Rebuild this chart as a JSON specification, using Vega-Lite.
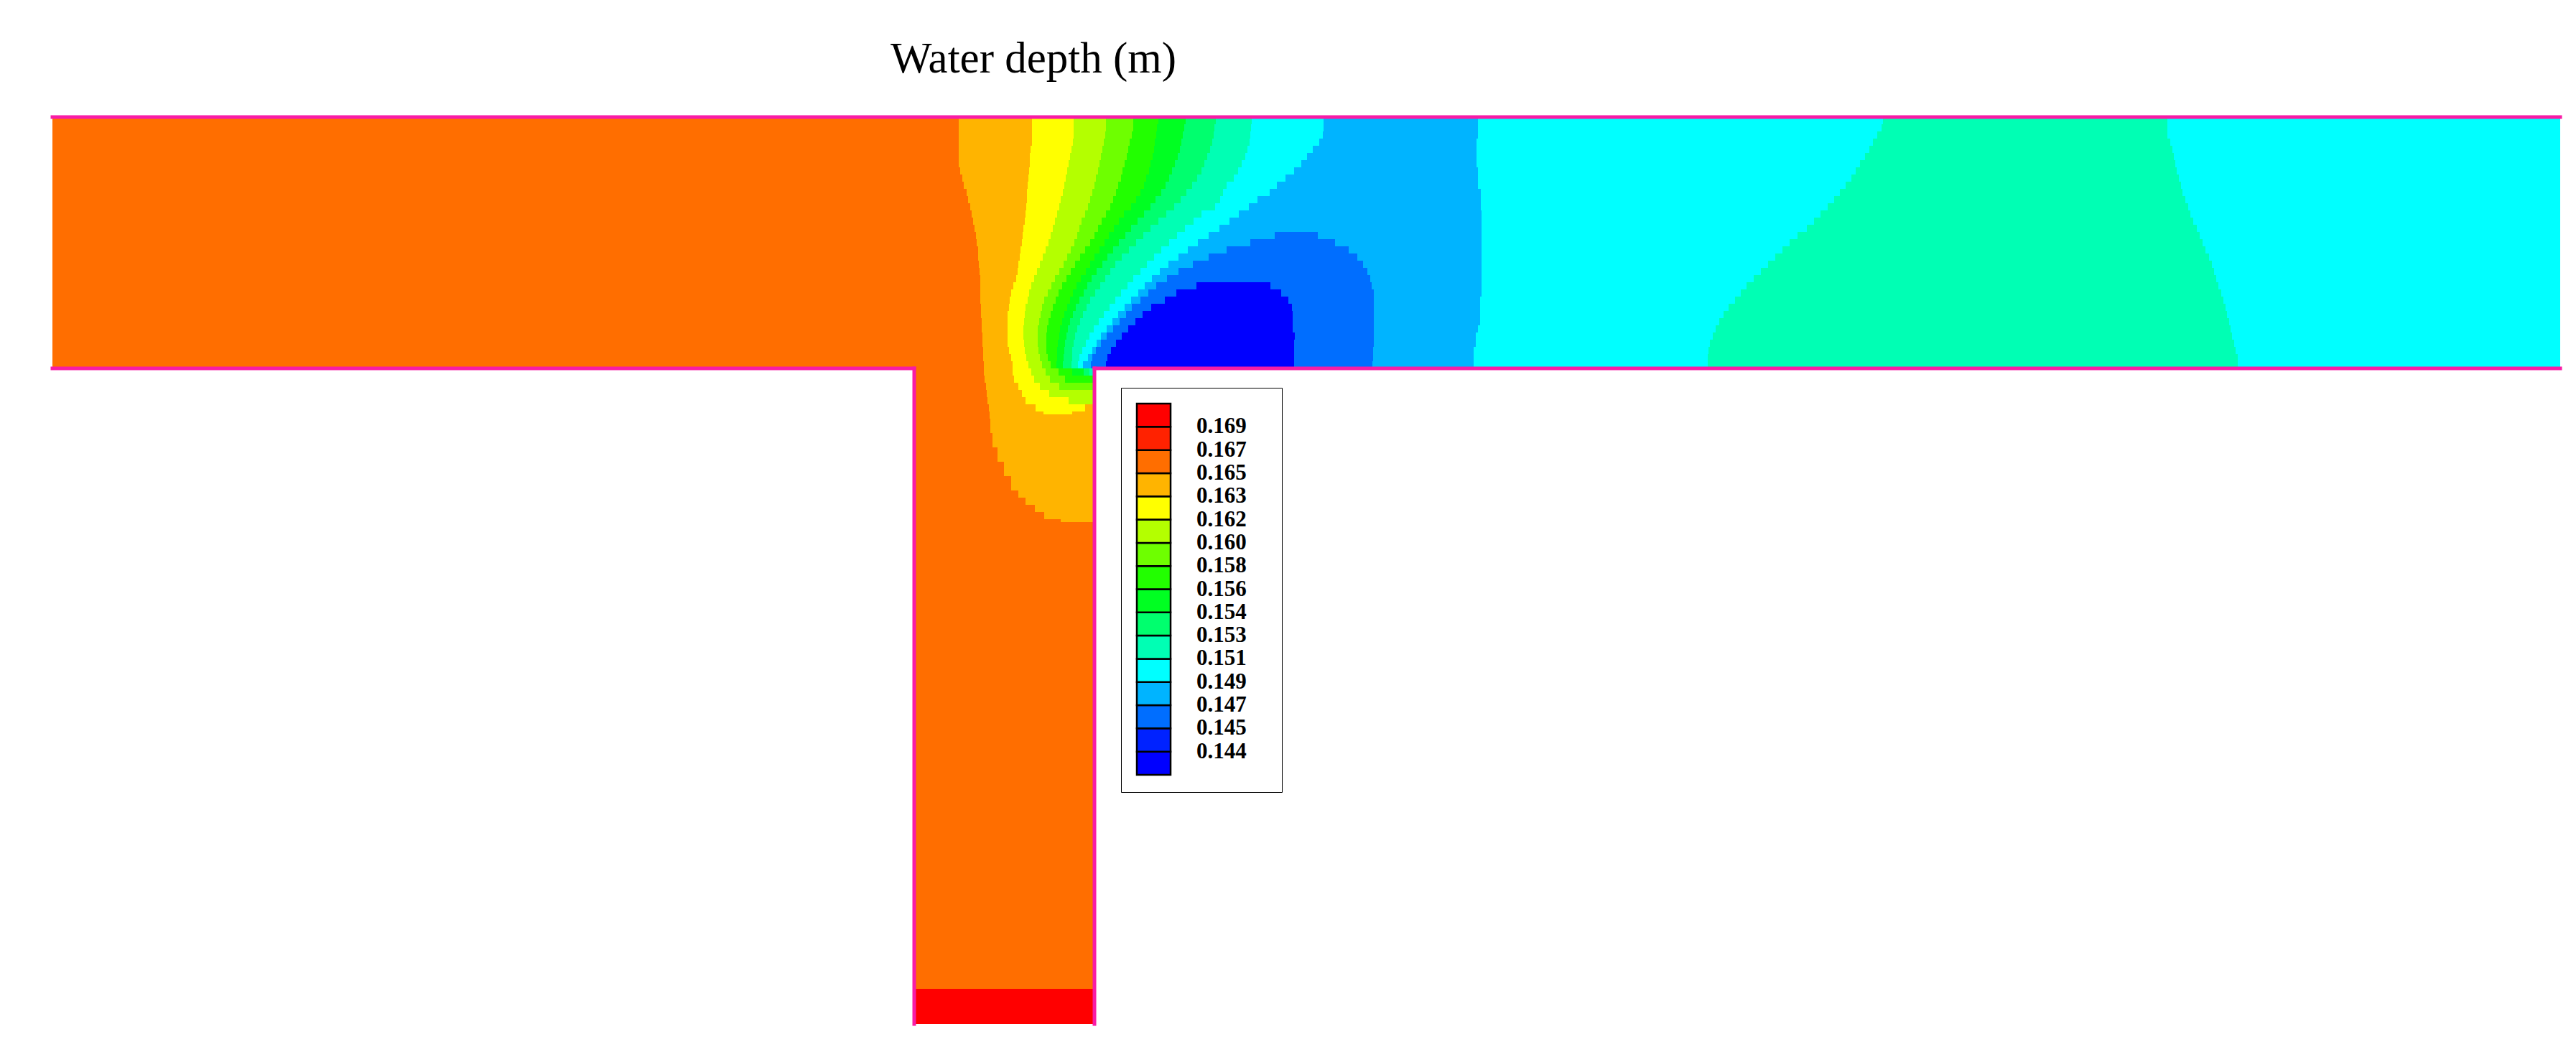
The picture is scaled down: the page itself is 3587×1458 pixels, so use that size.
{
  "$schema": "https://vega.github.io/schema/vega-lite/v6.json",
  "width": 3492,
  "height": 1263,
  "autosize": {"type": "none"},
  "padding": {"left": 73, "top": 163, "right": 22, "bottom": 32},
  "background": "white",
  "config": {"view": {"stroke": null}},
  "title": {"text": "Water depth (m)", "anchor": "start", "frame": "group", "align": "center", "dx": 1366, "font": "Liberation Serif", "fontSize": 61, "fontWeight": "normal", "color": "#000000", "baseline": "alphabetic", "offset": -3},
  "datasets": {
    "cells": [
      {"x":0,"x2":126.2,"y":0,"y2":1,"d":0.166},{"x":126.2,"x2":136.4,"y":0,"y2":1,"d":0.164},{"x":136.4,"x2":142.2,"y":0,"y2":1,"d":0.1625},{"x":142.2,"x2":146.7,"y":0,"y2":1,"d":0.161},{"x":146.7,"x2":150.5,"y":0,"y2":1,"d":0.159},{"x":150.5,"x2":154.0,"y":0,"y2":1,"d":0.157},{"x":154.0,"x2":157.8,"y":0,"y2":1,"d":0.155},{"x":157.8,"x2":162.0,"y":0,"y2":1,"d":0.1535},{"x":162.0,"x2":167.0,"y":0,"y2":1,"d":0.152},{"x":167.0,"x2":177.0,"y":0,"y2":1,"d":0.150},{"x":177.0,"x2":198.5,"y":0,"y2":1,"d":0.148},{"x":198.5,"x2":254.9,"y":0,"y2":1,"d":0.150},{"x":254.9,"x2":294.5,"y":0,"y2":1,"d":0.152},{"x":294.5,"x2":349.2,"y":0,"y2":1,"d":0.150},
      {"x":0,"x2":126.2,"y":1,"y2":2,"d":0.166},{"x":126.2,"x2":136.4,"y":1,"y2":2,"d":0.164},{"x":136.4,"x2":142.2,"y":1,"y2":2,"d":0.1625},{"x":142.2,"x2":146.7,"y":1,"y2":2,"d":0.161},{"x":146.7,"x2":150.5,"y":1,"y2":2,"d":0.159},{"x":150.5,"x2":153.8,"y":1,"y2":2,"d":0.157},{"x":153.8,"x2":157.6,"y":1,"y2":2,"d":0.155},{"x":157.6,"x2":161.8,"y":1,"y2":2,"d":0.1535},{"x":161.8,"x2":166.9,"y":1,"y2":2,"d":0.152},{"x":166.9,"x2":177.0,"y":1,"y2":2,"d":0.150},{"x":177.0,"x2":198.5,"y":1,"y2":2,"d":0.148},{"x":198.5,"x2":254.7,"y":1,"y2":2,"d":0.150},{"x":254.7,"x2":294.5,"y":1,"y2":2,"d":0.152},{"x":294.5,"x2":349.2,"y":1,"y2":2,"d":0.150},
      {"x":0,"x2":126.2,"y":2,"y2":3,"d":0.166},{"x":126.2,"x2":136.4,"y":2,"y2":3,"d":0.164},{"x":136.4,"x2":142.2,"y":2,"y2":3,"d":0.1625},{"x":142.2,"x2":146.6,"y":2,"y2":3,"d":0.161},{"x":146.6,"x2":150.3,"y":2,"y2":3,"d":0.159},{"x":150.3,"x2":153.7,"y":2,"y2":3,"d":0.157},{"x":153.7,"x2":157.4,"y":2,"y2":3,"d":0.155},{"x":157.4,"x2":161.7,"y":2,"y2":3,"d":0.1535},{"x":161.7,"x2":166.8,"y":2,"y2":3,"d":0.152},{"x":166.8,"x2":176.9,"y":2,"y2":3,"d":0.150},{"x":176.9,"x2":198.5,"y":2,"y2":3,"d":0.148},{"x":198.5,"x2":254.1,"y":2,"y2":3,"d":0.150},{"x":254.1,"x2":294.5,"y":2,"y2":3,"d":0.152},{"x":294.5,"x2":349.2,"y":2,"y2":3,"d":0.150},
      {"x":0,"x2":126.2,"y":3,"y2":4,"d":0.166},{"x":126.2,"x2":136.4,"y":3,"y2":4,"d":0.164},{"x":136.4,"x2":142.1,"y":3,"y2":4,"d":0.1625},{"x":142.1,"x2":146.4,"y":3,"y2":4,"d":0.161},{"x":146.4,"x2":150.0,"y":3,"y2":4,"d":0.159},{"x":150.0,"x2":153.5,"y":3,"y2":4,"d":0.157},{"x":153.5,"x2":157.2,"y":3,"y2":4,"d":0.155},{"x":157.2,"x2":161.5,"y":3,"y2":4,"d":0.1535},{"x":161.5,"x2":166.7,"y":3,"y2":4,"d":0.152},{"x":166.7,"x2":176.4,"y":3,"y2":4,"d":0.150},{"x":176.4,"x2":198.3,"y":3,"y2":4,"d":0.148},{"x":198.3,"x2":253.5,"y":3,"y2":4,"d":0.150},{"x":253.5,"x2":294.9,"y":3,"y2":4,"d":0.152},{"x":294.9,"x2":349.2,"y":3,"y2":4,"d":0.150},
      {"x":0,"x2":126.2,"y":4,"y2":5,"d":0.166},{"x":126.2,"x2":136.2,"y":4,"y2":5,"d":0.164},{"x":136.2,"x2":141.9,"y":4,"y2":5,"d":0.1625},{"x":141.9,"x2":146.2,"y":4,"y2":5,"d":0.161},{"x":146.2,"x2":149.8,"y":4,"y2":5,"d":0.159},{"x":149.8,"x2":153.4,"y":4,"y2":5,"d":0.157},{"x":153.4,"x2":157.0,"y":4,"y2":5,"d":0.155},{"x":157.0,"x2":161.2,"y":4,"y2":5,"d":0.1535},{"x":161.2,"x2":166.4,"y":4,"y2":5,"d":0.152},{"x":166.4,"x2":175.5,"y":4,"y2":5,"d":0.150},{"x":175.5,"x2":198.3,"y":4,"y2":5,"d":0.148},{"x":198.3,"x2":253.0,"y":4,"y2":5,"d":0.150},{"x":253.0,"x2":295.2,"y":4,"y2":5,"d":0.152},{"x":295.2,"x2":349.2,"y":4,"y2":5,"d":0.150},
      {"x":0,"x2":126.2,"y":5,"y2":6,"d":0.166},{"x":126.2,"x2":136.1,"y":5,"y2":6,"d":0.164},{"x":136.1,"x2":141.7,"y":5,"y2":6,"d":0.1625},{"x":141.7,"x2":146.0,"y":5,"y2":6,"d":0.161},{"x":146.0,"x2":149.6,"y":5,"y2":6,"d":0.159},{"x":149.6,"x2":153.2,"y":5,"y2":6,"d":0.157},{"x":153.2,"x2":156.7,"y":5,"y2":6,"d":0.155},{"x":156.7,"x2":160.8,"y":5,"y2":6,"d":0.1535},{"x":160.8,"x2":166.1,"y":5,"y2":6,"d":0.152},{"x":166.1,"x2":174.7,"y":5,"y2":6,"d":0.150},{"x":174.7,"x2":198.3,"y":5,"y2":6,"d":0.148},{"x":198.3,"x2":252.4,"y":5,"y2":6,"d":0.150},{"x":252.4,"x2":295.4,"y":5,"y2":6,"d":0.152},{"x":295.4,"x2":349.2,"y":5,"y2":6,"d":0.150},
      {"x":0,"x2":126.2,"y":6,"y2":7,"d":0.166},{"x":126.2,"x2":136.1,"y":6,"y2":7,"d":0.164},{"x":136.1,"x2":141.5,"y":6,"y2":7,"d":0.1625},{"x":141.5,"x2":145.8,"y":6,"y2":7,"d":0.161},{"x":145.8,"x2":149.3,"y":6,"y2":7,"d":0.159},{"x":149.3,"x2":152.9,"y":6,"y2":7,"d":0.157},{"x":152.9,"x2":156.3,"y":6,"y2":7,"d":0.155},{"x":156.3,"x2":160.4,"y":6,"y2":7,"d":0.1535},{"x":160.4,"x2":165.6,"y":6,"y2":7,"d":0.152},{"x":165.6,"x2":173.9,"y":6,"y2":7,"d":0.150},{"x":173.9,"x2":198.3,"y":6,"y2":7,"d":0.148},{"x":198.3,"x2":251.7,"y":6,"y2":7,"d":0.150},{"x":251.7,"x2":295.6,"y":6,"y2":7,"d":0.152},{"x":295.6,"x2":349.2,"y":6,"y2":7,"d":0.150},
      {"x":0,"x2":126.4,"y":7,"y2":8,"d":0.166},{"x":126.4,"x2":136.0,"y":7,"y2":8,"d":0.164},{"x":136.0,"x2":141.3,"y":7,"y2":8,"d":0.1625},{"x":141.3,"x2":145.6,"y":7,"y2":8,"d":0.161},{"x":145.6,"x2":149.0,"y":7,"y2":8,"d":0.159},{"x":149.0,"x2":152.7,"y":7,"y2":8,"d":0.157},{"x":152.7,"x2":155.9,"y":7,"y2":8,"d":0.155},{"x":155.9,"x2":160.0,"y":7,"y2":8,"d":0.1535},{"x":160.0,"x2":165.1,"y":7,"y2":8,"d":0.152},{"x":165.1,"x2":172.9,"y":7,"y2":8,"d":0.150},{"x":172.9,"x2":198.5,"y":7,"y2":8,"d":0.148},{"x":198.5,"x2":251.1,"y":7,"y2":8,"d":0.150},{"x":251.1,"x2":295.8,"y":7,"y2":8,"d":0.152},{"x":295.8,"x2":349.2,"y":7,"y2":8,"d":0.150},
      {"x":0,"x2":126.7,"y":8,"y2":9,"d":0.166},{"x":126.7,"x2":135.9,"y":8,"y2":9,"d":0.164},{"x":135.9,"x2":141.1,"y":8,"y2":9,"d":0.1625},{"x":141.1,"x2":145.3,"y":8,"y2":9,"d":0.161},{"x":145.3,"x2":148.8,"y":8,"y2":9,"d":0.159},{"x":148.8,"x2":152.3,"y":8,"y2":9,"d":0.157},{"x":152.3,"x2":155.5,"y":8,"y2":9,"d":0.155},{"x":155.5,"x2":159.4,"y":8,"y2":9,"d":0.1535},{"x":159.4,"x2":164.5,"y":8,"y2":9,"d":0.152},{"x":164.5,"x2":171.7,"y":8,"y2":9,"d":0.150},{"x":171.7,"x2":198.5,"y":8,"y2":9,"d":0.148},{"x":198.5,"x2":250.5,"y":8,"y2":9,"d":0.150},{"x":250.5,"x2":296.1,"y":8,"y2":9,"d":0.152},{"x":296.1,"x2":349.2,"y":8,"y2":9,"d":0.150},
      {"x":0,"x2":126.9,"y":9,"y2":10,"d":0.166},{"x":126.9,"x2":135.8,"y":9,"y2":10,"d":0.164},{"x":135.8,"x2":140.9,"y":9,"y2":10,"d":0.1625},{"x":140.9,"x2":145.1,"y":9,"y2":10,"d":0.161},{"x":145.1,"x2":148.4,"y":9,"y2":10,"d":0.159},{"x":148.4,"x2":152.0,"y":9,"y2":10,"d":0.157},{"x":152.0,"x2":155.0,"y":9,"y2":10,"d":0.155},{"x":155.0,"x2":158.7,"y":9,"y2":10,"d":0.1535},{"x":158.7,"x2":163.5,"y":9,"y2":10,"d":0.152},{"x":163.5,"x2":170.5,"y":9,"y2":10,"d":0.150},{"x":170.5,"x2":198.5,"y":9,"y2":10,"d":0.148},{"x":198.5,"x2":249.7,"y":9,"y2":10,"d":0.150},{"x":249.7,"x2":296.4,"y":9,"y2":10,"d":0.152},{"x":296.4,"x2":349.2,"y":9,"y2":10,"d":0.150},
      {"x":0,"x2":127.3,"y":10,"y2":11,"d":0.166},{"x":127.3,"x2":135.7,"y":10,"y2":11,"d":0.164},{"x":135.7,"x2":140.7,"y":10,"y2":11,"d":0.1625},{"x":140.7,"x2":144.8,"y":10,"y2":11,"d":0.161},{"x":144.8,"x2":148.1,"y":10,"y2":11,"d":0.159},{"x":148.1,"x2":151.5,"y":10,"y2":11,"d":0.157},{"x":151.5,"x2":154.4,"y":10,"y2":11,"d":0.155},{"x":154.4,"x2":157.9,"y":10,"y2":11,"d":0.1535},{"x":157.9,"x2":163.0,"y":10,"y2":11,"d":0.152},{"x":163.0,"x2":169.5,"y":10,"y2":11,"d":0.150},{"x":169.5,"x2":198.9,"y":10,"y2":11,"d":0.148},{"x":198.9,"x2":248.9,"y":10,"y2":11,"d":0.150},{"x":248.9,"x2":296.6,"y":10,"y2":11,"d":0.152},{"x":296.6,"x2":349.2,"y":10,"y2":11,"d":0.150},
      {"x":0,"x2":127.5,"y":11,"y2":12,"d":0.166},{"x":127.5,"x2":135.7,"y":11,"y2":12,"d":0.164},{"x":135.7,"x2":140.4,"y":11,"y2":12,"d":0.1625},{"x":140.4,"x2":144.5,"y":11,"y2":12,"d":0.161},{"x":144.5,"x2":147.7,"y":11,"y2":12,"d":0.159},{"x":147.7,"x2":150.9,"y":11,"y2":12,"d":0.157},{"x":150.9,"x2":153.6,"y":11,"y2":12,"d":0.155},{"x":153.6,"x2":157.1,"y":11,"y2":12,"d":0.1535},{"x":157.1,"x2":162.6,"y":11,"y2":12,"d":0.152},{"x":162.6,"x2":167.8,"y":11,"y2":12,"d":0.150},{"x":167.8,"x2":198.9,"y":11,"y2":12,"d":0.148},{"x":198.9,"x2":248.1,"y":11,"y2":12,"d":0.150},{"x":248.1,"x2":297.0,"y":11,"y2":12,"d":0.152},{"x":297.0,"x2":349.2,"y":11,"y2":12,"d":0.150},
      {"x":0,"x2":127.8,"y":12,"y2":13,"d":0.166},{"x":127.8,"x2":135.6,"y":12,"y2":13,"d":0.164},{"x":135.6,"x2":140.2,"y":12,"y2":13,"d":0.1625},{"x":140.2,"x2":144.2,"y":12,"y2":13,"d":0.161},{"x":144.2,"x2":147.3,"y":12,"y2":13,"d":0.159},{"x":147.3,"x2":150.2,"y":12,"y2":13,"d":0.157},{"x":150.2,"x2":152.9,"y":12,"y2":13,"d":0.155},{"x":152.9,"x2":156.2,"y":12,"y2":13,"d":0.1535},{"x":156.2,"x2":161.9,"y":12,"y2":13,"d":0.152},{"x":161.9,"x2":166.6,"y":12,"y2":13,"d":0.150},{"x":166.6,"x2":198.9,"y":12,"y2":13,"d":0.148},{"x":198.9,"x2":247.2,"y":12,"y2":13,"d":0.150},{"x":247.2,"x2":297.4,"y":12,"y2":13,"d":0.152},{"x":297.4,"x2":349.2,"y":12,"y2":13,"d":0.150},
      {"x":0,"x2":128.0,"y":13,"y2":14,"d":0.166},{"x":128.0,"x2":135.5,"y":13,"y2":14,"d":0.164},{"x":135.5,"x2":139.9,"y":13,"y2":14,"d":0.1625},{"x":139.9,"x2":143.8,"y":13,"y2":14,"d":0.161},{"x":143.8,"x2":146.7,"y":13,"y2":14,"d":0.159},{"x":146.7,"x2":149.2,"y":13,"y2":14,"d":0.157},{"x":149.2,"x2":152.0,"y":13,"y2":14,"d":0.155},{"x":152.0,"x2":155.1,"y":13,"y2":14,"d":0.1535},{"x":155.1,"x2":160.0,"y":13,"y2":14,"d":0.152},{"x":160.0,"x2":165.2,"y":13,"y2":14,"d":0.150},{"x":165.2,"x2":199.0,"y":13,"y2":14,"d":0.148},{"x":199.0,"x2":246.2,"y":13,"y2":14,"d":0.150},{"x":246.2,"x2":297.7,"y":13,"y2":14,"d":0.152},{"x":297.7,"x2":349.2,"y":13,"y2":14,"d":0.150},
      {"x":0,"x2":128.2,"y":14,"y2":15,"d":0.166},{"x":128.2,"x2":135.4,"y":14,"y2":15,"d":0.164},{"x":135.4,"x2":139.6,"y":14,"y2":15,"d":0.1625},{"x":139.6,"x2":143.3,"y":14,"y2":15,"d":0.161},{"x":143.3,"x2":146.1,"y":14,"y2":15,"d":0.159},{"x":146.1,"x2":148.5,"y":14,"y2":15,"d":0.157},{"x":148.5,"x2":151.1,"y":14,"y2":15,"d":0.155},{"x":151.1,"x2":154.0,"y":14,"y2":15,"d":0.1535},{"x":154.0,"x2":158.9,"y":14,"y2":15,"d":0.152},{"x":158.9,"x2":163.9,"y":14,"y2":15,"d":0.150},{"x":163.9,"x2":199.0,"y":14,"y2":15,"d":0.148},{"x":199.0,"x2":245.3,"y":14,"y2":15,"d":0.150},{"x":245.3,"x2":298.1,"y":14,"y2":15,"d":0.152},{"x":298.1,"x2":349.2,"y":14,"y2":15,"d":0.150},
      {"x":0,"x2":128.4,"y":15,"y2":16,"d":0.166},{"x":128.4,"x2":135.2,"y":15,"y2":16,"d":0.164},{"x":135.2,"x2":139.3,"y":15,"y2":16,"d":0.1625},{"x":139.3,"x2":143.0,"y":15,"y2":16,"d":0.161},{"x":143.0,"x2":145.6,"y":15,"y2":16,"d":0.159},{"x":145.6,"x2":147.8,"y":15,"y2":16,"d":0.157},{"x":147.8,"x2":150.2,"y":15,"y2":16,"d":0.155},{"x":150.2,"x2":152.9,"y":15,"y2":16,"d":0.1535},{"x":152.9,"x2":157.7,"y":15,"y2":16,"d":0.152},{"x":157.7,"x2":162.5,"y":15,"y2":16,"d":0.150},{"x":162.5,"x2":199.0,"y":15,"y2":16,"d":0.148},{"x":199.0,"x2":244.3,"y":15,"y2":16,"d":0.150},{"x":244.3,"x2":298.6,"y":15,"y2":16,"d":0.152},{"x":298.6,"x2":349.2,"y":15,"y2":16,"d":0.150},
      {"x":0,"x2":128.6,"y":16,"y2":17,"d":0.166},{"x":128.6,"x2":135.1,"y":16,"y2":17,"d":0.164},{"x":135.1,"x2":139.0,"y":16,"y2":17,"d":0.1625},{"x":139.0,"x2":142.7,"y":16,"y2":17,"d":0.161},{"x":142.7,"x2":145.1,"y":16,"y2":17,"d":0.159},{"x":145.1,"x2":147.1,"y":16,"y2":17,"d":0.157},{"x":147.1,"x2":149.4,"y":16,"y2":17,"d":0.155},{"x":149.4,"x2":151.9,"y":16,"y2":17,"d":0.1535},{"x":151.9,"x2":156.6,"y":16,"y2":17,"d":0.152},{"x":156.6,"x2":161.0,"y":16,"y2":17,"d":0.150},{"x":161.0,"x2":170.2,"y":16,"y2":17,"d":0.148},{"x":170.2,"x2":176.2,"y":16,"y2":17,"d":0.146},{"x":176.2,"x2":199.0,"y":16,"y2":17,"d":0.148},{"x":199.0,"x2":243.0,"y":16,"y2":17,"d":0.150},{"x":243.0,"x2":299.0,"y":16,"y2":17,"d":0.152},{"x":299.0,"x2":349.2,"y":16,"y2":17,"d":0.150},
      {"x":0,"x2":128.7,"y":17,"y2":18,"d":0.166},{"x":128.7,"x2":135.0,"y":17,"y2":18,"d":0.164},{"x":135.0,"x2":138.7,"y":17,"y2":18,"d":0.1625},{"x":138.7,"x2":142.3,"y":17,"y2":18,"d":0.161},{"x":142.3,"x2":144.5,"y":17,"y2":18,"d":0.159},{"x":144.5,"x2":146.5,"y":17,"y2":18,"d":0.157},{"x":146.5,"x2":148.5,"y":17,"y2":18,"d":0.155},{"x":148.5,"x2":150.9,"y":17,"y2":18,"d":0.1535},{"x":150.9,"x2":155.5,"y":17,"y2":18,"d":0.152},{"x":155.5,"x2":159.5,"y":17,"y2":18,"d":0.150},{"x":159.5,"x2":166.8,"y":17,"y2":18,"d":0.148},{"x":166.8,"x2":178.6,"y":17,"y2":18,"d":0.146},{"x":178.6,"x2":199.0,"y":17,"y2":18,"d":0.148},{"x":199.0,"x2":241.9,"y":17,"y2":18,"d":0.150},{"x":241.9,"x2":299.4,"y":17,"y2":18,"d":0.152},{"x":299.4,"x2":349.2,"y":17,"y2":18,"d":0.150},
      {"x":0,"x2":128.9,"y":18,"y2":19,"d":0.166},{"x":128.9,"x2":134.8,"y":18,"y2":19,"d":0.164},{"x":134.8,"x2":138.3,"y":18,"y2":19,"d":0.1625},{"x":138.3,"x2":141.8,"y":18,"y2":19,"d":0.161},{"x":141.8,"x2":143.8,"y":18,"y2":19,"d":0.159},{"x":143.8,"x2":145.8,"y":18,"y2":19,"d":0.157},{"x":145.8,"x2":147.7,"y":18,"y2":19,"d":0.155},{"x":147.7,"x2":149.9,"y":18,"y2":19,"d":0.1535},{"x":149.9,"x2":154.4,"y":18,"y2":19,"d":0.152},{"x":154.4,"x2":158.1,"y":18,"y2":19,"d":0.150},{"x":158.1,"x2":163.5,"y":18,"y2":19,"d":0.148},{"x":163.5,"x2":180.5,"y":18,"y2":19,"d":0.146},{"x":180.5,"x2":199.0,"y":18,"y2":19,"d":0.148},{"x":199.0,"x2":240.9,"y":18,"y2":19,"d":0.150},{"x":240.9,"x2":299.8,"y":18,"y2":19,"d":0.152},{"x":299.8,"x2":349.2,"y":18,"y2":19,"d":0.150},
      {"x":0,"x2":128.9,"y":19,"y2":20,"d":0.166},{"x":128.9,"x2":134.7,"y":19,"y2":20,"d":0.164},{"x":134.7,"x2":137.9,"y":19,"y2":20,"d":0.1625},{"x":137.9,"x2":141.3,"y":19,"y2":20,"d":0.161},{"x":141.3,"x2":143.1,"y":19,"y2":20,"d":0.159},{"x":143.1,"x2":145.1,"y":19,"y2":20,"d":0.157},{"x":145.1,"x2":146.9,"y":19,"y2":20,"d":0.155},{"x":146.9,"x2":148.9,"y":19,"y2":20,"d":0.1535},{"x":148.9,"x2":153.4,"y":19,"y2":20,"d":0.152},{"x":153.4,"x2":156.8,"y":19,"y2":20,"d":0.150},{"x":156.8,"x2":161.0,"y":19,"y2":20,"d":0.148},{"x":161.0,"x2":181.7,"y":19,"y2":20,"d":0.146},{"x":181.7,"x2":199.0,"y":19,"y2":20,"d":0.148},{"x":199.0,"x2":239.9,"y":19,"y2":20,"d":0.150},{"x":239.9,"x2":300.3,"y":19,"y2":20,"d":0.152},{"x":300.3,"x2":349.2,"y":19,"y2":20,"d":0.150},
      {"x":0,"x2":129.0,"y":20,"y2":21,"d":0.166},{"x":129.0,"x2":134.5,"y":20,"y2":21,"d":0.164},{"x":134.5,"x2":137.5,"y":20,"y2":21,"d":0.1625},{"x":137.5,"x2":140.8,"y":20,"y2":21,"d":0.161},{"x":140.8,"x2":142.4,"y":20,"y2":21,"d":0.159},{"x":142.4,"x2":144.5,"y":20,"y2":21,"d":0.157},{"x":144.5,"x2":146.2,"y":20,"y2":21,"d":0.155},{"x":146.2,"x2":148.0,"y":20,"y2":21,"d":0.1535},{"x":148.0,"x2":152.4,"y":20,"y2":21,"d":0.152},{"x":152.4,"x2":155.4,"y":20,"y2":21,"d":0.150},{"x":155.4,"x2":158.8,"y":20,"y2":21,"d":0.148},{"x":158.8,"x2":182.5,"y":20,"y2":21,"d":0.146},{"x":182.5,"x2":199.0,"y":20,"y2":21,"d":0.148},{"x":199.0,"x2":238.9,"y":20,"y2":21,"d":0.150},{"x":238.9,"x2":300.7,"y":20,"y2":21,"d":0.152},{"x":300.7,"x2":349.2,"y":20,"y2":21,"d":0.150},
      {"x":0,"x2":129.1,"y":21,"y2":22,"d":0.166},{"x":129.1,"x2":134.4,"y":21,"y2":22,"d":0.164},{"x":134.4,"x2":137.1,"y":21,"y2":22,"d":0.1625},{"x":137.1,"x2":140.2,"y":21,"y2":22,"d":0.161},{"x":140.2,"x2":141.8,"y":21,"y2":22,"d":0.159},{"x":141.8,"x2":143.9,"y":21,"y2":22,"d":0.157},{"x":143.9,"x2":145.4,"y":21,"y2":22,"d":0.155},{"x":145.4,"x2":147.3,"y":21,"y2":22,"d":0.1535},{"x":147.3,"x2":151.5,"y":21,"y2":22,"d":0.152},{"x":151.5,"x2":154.2,"y":21,"y2":22,"d":0.150},{"x":154.2,"x2":156.8,"y":21,"y2":22,"d":0.148},{"x":156.8,"x2":183.1,"y":21,"y2":22,"d":0.146},{"x":183.1,"x2":199.0,"y":21,"y2":22,"d":0.148},{"x":199.0,"x2":237.9,"y":21,"y2":22,"d":0.150},{"x":237.9,"x2":301.0,"y":21,"y2":22,"d":0.152},{"x":301.0,"x2":349.2,"y":21,"y2":22,"d":0.150},
      {"x":0,"x2":129.2,"y":22,"y2":23,"d":0.166},{"x":129.2,"x2":134.2,"y":22,"y2":23,"d":0.164},{"x":134.2,"x2":136.7,"y":22,"y2":23,"d":0.1625},{"x":136.7,"x2":139.6,"y":22,"y2":23,"d":0.161},{"x":139.6,"x2":141.2,"y":22,"y2":23,"d":0.159},{"x":141.2,"x2":143.2,"y":22,"y2":23,"d":0.157},{"x":143.2,"x2":144.7,"y":22,"y2":23,"d":0.155},{"x":144.7,"x2":146.6,"y":22,"y2":23,"d":0.1535},{"x":146.6,"x2":150.5,"y":22,"y2":23,"d":0.152},{"x":150.5,"x2":153.1,"y":22,"y2":23,"d":0.150},{"x":153.1,"x2":155.2,"y":22,"y2":23,"d":0.148},{"x":155.2,"x2":183.5,"y":22,"y2":23,"d":0.146},{"x":183.5,"x2":199.0,"y":22,"y2":23,"d":0.148},{"x":199.0,"x2":236.9,"y":22,"y2":23,"d":0.150},{"x":236.9,"x2":301.3,"y":22,"y2":23,"d":0.152},{"x":301.3,"x2":349.2,"y":22,"y2":23,"d":0.150},
      {"x":0,"x2":129.2,"y":23,"y2":24,"d":0.166},{"x":129.2,"x2":133.8,"y":23,"y2":24,"d":0.164},{"x":133.8,"x2":136.3,"y":23,"y2":24,"d":0.1625},{"x":136.3,"x2":139.1,"y":23,"y2":24,"d":0.161},{"x":139.1,"x2":140.6,"y":23,"y2":24,"d":0.159},{"x":140.6,"x2":142.6,"y":23,"y2":24,"d":0.157},{"x":142.6,"x2":144.1,"y":23,"y2":24,"d":0.155},{"x":144.1,"x2":145.9,"y":23,"y2":24,"d":0.1535},{"x":145.9,"x2":149.7,"y":23,"y2":24,"d":0.152},{"x":149.7,"x2":152.1,"y":23,"y2":24,"d":0.150},{"x":152.1,"x2":153.7,"y":23,"y2":24,"d":0.148},{"x":153.7,"x2":159.3,"y":23,"y2":24,"d":0.146},{"x":159.3,"x2":169.6,"y":23,"y2":24,"d":0.1435},{"x":169.6,"x2":183.7,"y":23,"y2":24,"d":0.146},{"x":183.7,"x2":199.0,"y":23,"y2":24,"d":0.148},{"x":199.0,"x2":235.9,"y":23,"y2":24,"d":0.150},{"x":235.9,"x2":301.6,"y":23,"y2":24,"d":0.152},{"x":301.6,"x2":349.2,"y":23,"y2":24,"d":0.150},
      {"x":0,"x2":129.2,"y":24,"y2":25,"d":0.166},{"x":129.2,"x2":133.5,"y":24,"y2":25,"d":0.164},{"x":133.5,"x2":136.0,"y":24,"y2":25,"d":0.1625},{"x":136.0,"x2":138.6,"y":24,"y2":25,"d":0.161},{"x":138.6,"x2":140.1,"y":24,"y2":25,"d":0.159},{"x":140.1,"x2":142.1,"y":24,"y2":25,"d":0.157},{"x":142.1,"x2":143.6,"y":24,"y2":25,"d":0.155},{"x":143.6,"x2":145.2,"y":24,"y2":25,"d":0.1535},{"x":145.2,"x2":148.8,"y":24,"y2":25,"d":0.152},{"x":148.8,"x2":151.2,"y":24,"y2":25,"d":0.150},{"x":151.2,"x2":152.6,"y":24,"y2":25,"d":0.148},{"x":152.6,"x2":156.5,"y":24,"y2":25,"d":0.146},{"x":156.5,"x2":171.1,"y":24,"y2":25,"d":0.1435},{"x":171.1,"x2":184.0,"y":24,"y2":25,"d":0.146},{"x":184.0,"x2":199.0,"y":24,"y2":25,"d":0.148},{"x":199.0,"x2":235.1,"y":24,"y2":25,"d":0.150},{"x":235.1,"x2":302.0,"y":24,"y2":25,"d":0.152},{"x":302.0,"x2":349.2,"y":24,"y2":25,"d":0.150},
      {"x":0,"x2":129.2,"y":25,"y2":26,"d":0.166},{"x":129.2,"x2":133.3,"y":25,"y2":26,"d":0.164},{"x":133.3,"x2":135.8,"y":25,"y2":26,"d":0.1625},{"x":135.8,"x2":138.1,"y":25,"y2":26,"d":0.161},{"x":138.1,"x2":139.7,"y":25,"y2":26,"d":0.159},{"x":139.7,"x2":141.7,"y":25,"y2":26,"d":0.157},{"x":141.7,"x2":143.0,"y":25,"y2":26,"d":0.155},{"x":143.0,"x2":144.5,"y":25,"y2":26,"d":0.1535},{"x":144.5,"x2":148.0,"y":25,"y2":26,"d":0.152},{"x":148.0,"x2":150.2,"y":25,"y2":26,"d":0.150},{"x":150.2,"x2":151.5,"y":25,"y2":26,"d":0.148},{"x":151.5,"x2":154.9,"y":25,"y2":26,"d":0.146},{"x":154.9,"x2":172.1,"y":25,"y2":26,"d":0.1435},{"x":172.1,"x2":184.0,"y":25,"y2":26,"d":0.146},{"x":184.0,"x2":198.8,"y":25,"y2":26,"d":0.148},{"x":198.8,"x2":234.3,"y":25,"y2":26,"d":0.150},{"x":234.3,"x2":302.3,"y":25,"y2":26,"d":0.152},{"x":302.3,"x2":349.2,"y":25,"y2":26,"d":0.150},
      {"x":0,"x2":129.3,"y":26,"y2":27,"d":0.166},{"x":129.3,"x2":133.2,"y":26,"y2":27,"d":0.164},{"x":133.2,"x2":135.5,"y":26,"y2":27,"d":0.1625},{"x":135.5,"x2":137.8,"y":26,"y2":27,"d":0.161},{"x":137.8,"x2":139.3,"y":26,"y2":27,"d":0.159},{"x":139.3,"x2":141.3,"y":26,"y2":27,"d":0.157},{"x":141.3,"x2":142.5,"y":26,"y2":27,"d":0.155},{"x":142.5,"x2":144.0,"y":26,"y2":27,"d":0.1535},{"x":144.0,"x2":147.2,"y":26,"y2":27,"d":0.152},{"x":147.2,"x2":149.3,"y":26,"y2":27,"d":0.150},{"x":149.3,"x2":150.3,"y":26,"y2":27,"d":0.148},{"x":150.3,"x2":153.0,"y":26,"y2":27,"d":0.146},{"x":153.0,"x2":172.6,"y":26,"y2":27,"d":0.1435},{"x":172.6,"x2":184.0,"y":26,"y2":27,"d":0.146},{"x":184.0,"x2":198.8,"y":26,"y2":27,"d":0.148},{"x":198.8,"x2":233.4,"y":26,"y2":27,"d":0.150},{"x":233.4,"x2":302.6,"y":26,"y2":27,"d":0.152},{"x":302.6,"x2":349.2,"y":26,"y2":27,"d":0.150},
      {"x":0,"x2":129.3,"y":27,"y2":28,"d":0.166},{"x":129.3,"x2":133.0,"y":27,"y2":28,"d":0.164},{"x":133.0,"x2":135.4,"y":27,"y2":28,"d":0.1625},{"x":135.4,"x2":137.6,"y":27,"y2":28,"d":0.161},{"x":137.6,"x2":139.0,"y":27,"y2":28,"d":0.159},{"x":139.0,"x2":140.9,"y":27,"y2":28,"d":0.157},{"x":140.9,"x2":142.1,"y":27,"y2":28,"d":0.155},{"x":142.1,"x2":143.5,"y":27,"y2":28,"d":0.1535},{"x":143.5,"x2":146.4,"y":27,"y2":28,"d":0.152},{"x":146.4,"x2":148.4,"y":27,"y2":28,"d":0.150},{"x":148.4,"x2":149.5,"y":27,"y2":28,"d":0.148},{"x":149.5,"x2":151.8,"y":27,"y2":28,"d":0.146},{"x":151.8,"x2":172.7,"y":27,"y2":28,"d":0.1435},{"x":172.7,"x2":184.0,"y":27,"y2":28,"d":0.146},{"x":184.0,"x2":198.8,"y":27,"y2":28,"d":0.148},{"x":198.8,"x2":232.7,"y":27,"y2":28,"d":0.150},{"x":232.7,"x2":302.8,"y":27,"y2":28,"d":0.152},{"x":302.8,"x2":349.2,"y":27,"y2":28,"d":0.150},
      {"x":0,"x2":129.4,"y":28,"y2":29,"d":0.166},{"x":129.4,"x2":133.0,"y":28,"y2":29,"d":0.164},{"x":133.0,"x2":135.3,"y":28,"y2":29,"d":0.1625},{"x":135.3,"x2":137.4,"y":28,"y2":29,"d":0.161},{"x":137.4,"x2":138.7,"y":28,"y2":29,"d":0.159},{"x":138.7,"x2":140.6,"y":28,"y2":29,"d":0.157},{"x":140.6,"x2":141.7,"y":28,"y2":29,"d":0.155},{"x":141.7,"x2":143.1,"y":28,"y2":29,"d":0.1535},{"x":143.1,"x2":145.7,"y":28,"y2":29,"d":0.152},{"x":145.7,"x2":147.6,"y":28,"y2":29,"d":0.150},{"x":147.6,"x2":148.6,"y":28,"y2":29,"d":0.148},{"x":148.6,"x2":150.8,"y":28,"y2":29,"d":0.146},{"x":150.8,"x2":172.7,"y":28,"y2":29,"d":0.1435},{"x":172.7,"x2":184.0,"y":28,"y2":29,"d":0.146},{"x":184.0,"x2":198.8,"y":28,"y2":29,"d":0.148},{"x":198.8,"x2":232.1,"y":28,"y2":29,"d":0.150},{"x":232.1,"x2":303.1,"y":28,"y2":29,"d":0.152},{"x":303.1,"x2":349.2,"y":28,"y2":29,"d":0.150},
      {"x":0,"x2":129.4,"y":29,"y2":30,"d":0.166},{"x":129.4,"x2":133.0,"y":29,"y2":30,"d":0.164},{"x":133.0,"x2":135.2,"y":29,"y2":30,"d":0.1625},{"x":135.2,"x2":137.2,"y":29,"y2":30,"d":0.161},{"x":137.2,"x2":138.5,"y":29,"y2":30,"d":0.159},{"x":138.5,"x2":140.3,"y":29,"y2":30,"d":0.157},{"x":140.3,"x2":141.4,"y":29,"y2":30,"d":0.155},{"x":141.4,"x2":142.7,"y":29,"y2":30,"d":0.1535},{"x":142.7,"x2":145.0,"y":29,"y2":30,"d":0.152},{"x":145.0,"x2":146.8,"y":29,"y2":30,"d":0.150},{"x":146.8,"x2":147.7,"y":29,"y2":30,"d":0.148},{"x":147.7,"x2":149.8,"y":29,"y2":30,"d":0.146},{"x":149.8,"x2":172.7,"y":29,"y2":30,"d":0.1435},{"x":172.7,"x2":184.0,"y":29,"y2":30,"d":0.146},{"x":184.0,"x2":198.5,"y":29,"y2":30,"d":0.148},{"x":198.5,"x2":231.6,"y":29,"y2":30,"d":0.150},{"x":231.6,"x2":303.3,"y":29,"y2":30,"d":0.152},{"x":303.3,"x2":349.2,"y":29,"y2":30,"d":0.150},
      {"x":0,"x2":129.5,"y":30,"y2":31,"d":0.166},{"x":129.5,"x2":133.0,"y":30,"y2":31,"d":0.164},{"x":133.0,"x2":135.2,"y":30,"y2":31,"d":0.1625},{"x":135.2,"x2":137.2,"y":30,"y2":31,"d":0.161},{"x":137.2,"x2":138.4,"y":30,"y2":31,"d":0.159},{"x":138.4,"x2":140.2,"y":30,"y2":31,"d":0.157},{"x":140.2,"x2":141.2,"y":30,"y2":31,"d":0.155},{"x":141.2,"x2":142.4,"y":30,"y2":31,"d":0.1535},{"x":142.4,"x2":144.4,"y":30,"y2":31,"d":0.152},{"x":144.4,"x2":146.0,"y":30,"y2":31,"d":0.150},{"x":146.0,"x2":146.8,"y":30,"y2":31,"d":0.148},{"x":146.8,"x2":148.9,"y":30,"y2":31,"d":0.146},{"x":148.9,"x2":173.0,"y":30,"y2":31,"d":0.1435},{"x":173.0,"x2":184.0,"y":30,"y2":31,"d":0.146},{"x":184.0,"x2":198.2,"y":30,"y2":31,"d":0.148},{"x":198.2,"x2":231.2,"y":30,"y2":31,"d":0.150},{"x":231.2,"x2":303.5,"y":30,"y2":31,"d":0.152},{"x":303.5,"x2":349.2,"y":30,"y2":31,"d":0.150},
      {"x":0,"x2":129.5,"y":31,"y2":32,"d":0.166},{"x":129.5,"x2":133.0,"y":31,"y2":32,"d":0.164},{"x":133.0,"x2":135.3,"y":31,"y2":32,"d":0.1625},{"x":135.3,"x2":137.2,"y":31,"y2":32,"d":0.161},{"x":137.2,"x2":138.4,"y":31,"y2":32,"d":0.159},{"x":138.4,"x2":140.0,"y":31,"y2":32,"d":0.157},{"x":140.0,"x2":141.0,"y":31,"y2":32,"d":0.155},{"x":141.0,"x2":142.2,"y":31,"y2":32,"d":0.1535},{"x":142.2,"x2":143.9,"y":31,"y2":32,"d":0.152},{"x":143.9,"x2":145.4,"y":31,"y2":32,"d":0.150},{"x":145.4,"x2":146.0,"y":31,"y2":32,"d":0.148},{"x":146.0,"x2":148.1,"y":31,"y2":32,"d":0.146},{"x":148.1,"x2":172.9,"y":31,"y2":32,"d":0.1435},{"x":172.9,"x2":184.0,"y":31,"y2":32,"d":0.146},{"x":184.0,"x2":198.2,"y":31,"y2":32,"d":0.148},{"x":198.2,"x2":230.8,"y":31,"y2":32,"d":0.150},{"x":230.8,"x2":303.8,"y":31,"y2":32,"d":0.152},{"x":303.8,"x2":349.2,"y":31,"y2":32,"d":0.150},
      {"x":0,"x2":129.6,"y":32,"y2":33,"d":0.166},{"x":129.6,"x2":133.2,"y":32,"y2":33,"d":0.164},{"x":133.2,"x2":135.4,"y":32,"y2":33,"d":0.1625},{"x":135.4,"x2":137.3,"y":32,"y2":33,"d":0.161},{"x":137.3,"x2":138.4,"y":32,"y2":33,"d":0.159},{"x":138.4,"x2":139.9,"y":32,"y2":33,"d":0.157},{"x":139.9,"x2":140.9,"y":32,"y2":33,"d":0.155},{"x":140.9,"x2":142.0,"y":32,"y2":33,"d":0.1535},{"x":142.0,"x2":143.4,"y":32,"y2":33,"d":0.152},{"x":143.4,"x2":144.8,"y":32,"y2":33,"d":0.150},{"x":144.8,"x2":145.3,"y":32,"y2":33,"d":0.148},{"x":145.3,"x2":147.4,"y":32,"y2":33,"d":0.146},{"x":147.4,"x2":172.9,"y":32,"y2":33,"d":0.1435},{"x":172.9,"x2":183.9,"y":32,"y2":33,"d":0.146},{"x":183.9,"x2":197.9,"y":32,"y2":33,"d":0.148},{"x":197.9,"x2":230.6,"y":32,"y2":33,"d":0.150},{"x":230.6,"x2":304.0,"y":32,"y2":33,"d":0.152},{"x":304.0,"x2":349.2,"y":32,"y2":33,"d":0.150},
      {"x":0,"x2":129.6,"y":33,"y2":34,"d":0.166},{"x":129.6,"x2":133.5,"y":33,"y2":34,"d":0.164},{"x":133.5,"x2":135.6,"y":33,"y2":34,"d":0.1625},{"x":135.6,"x2":137.5,"y":33,"y2":34,"d":0.161},{"x":137.5,"x2":138.6,"y":33,"y2":34,"d":0.159},{"x":138.6,"x2":139.9,"y":33,"y2":34,"d":0.157},{"x":139.9,"x2":140.8,"y":33,"y2":34,"d":0.155},{"x":140.8,"x2":142.0,"y":33,"y2":34,"d":0.1535},{"x":142.0,"x2":143.0,"y":33,"y2":34,"d":0.152},{"x":143.0,"x2":144.2,"y":33,"y2":34,"d":0.150},{"x":144.2,"x2":144.8,"y":33,"y2":34,"d":0.148},{"x":144.8,"x2":146.9,"y":33,"y2":34,"d":0.146},{"x":146.9,"x2":172.9,"y":33,"y2":34,"d":0.1435},{"x":172.9,"x2":183.9,"y":33,"y2":34,"d":0.146},{"x":183.9,"x2":197.9,"y":33,"y2":34,"d":0.148},{"x":197.9,"x2":230.5,"y":33,"y2":34,"d":0.150},{"x":230.5,"x2":304.3,"y":33,"y2":34,"d":0.152},{"x":304.3,"x2":349.2,"y":33,"y2":34,"d":0.150},
      {"x":0,"x2":129.7,"y":34,"y2":35,"d":0.166},{"x":129.7,"x2":133.7,"y":34,"y2":35,"d":0.164},{"x":133.7,"x2":135.9,"y":34,"y2":35,"d":0.1625},{"x":135.9,"x2":137.8,"y":34,"y2":35,"d":0.161},{"x":137.8,"x2":139.0,"y":34,"y2":35,"d":0.159},{"x":139.0,"x2":139.8,"y":34,"y2":35,"d":0.157},{"x":139.8,"x2":140.7,"y":34,"y2":35,"d":0.155},{"x":140.7,"x2":141.9,"y":34,"y2":35,"d":0.1535},{"x":141.9,"x2":142.8,"y":34,"y2":35,"d":0.152},{"x":142.8,"x2":143.5,"y":34,"y2":35,"d":0.150},{"x":143.5,"x2":144.6,"y":34,"y2":35,"d":0.148},{"x":144.6,"x2":146.7,"y":34,"y2":35,"d":0.146},{"x":146.7,"x2":172.9,"y":34,"y2":35,"d":0.1435},{"x":172.9,"x2":183.8,"y":34,"y2":35,"d":0.146},{"x":183.8,"x2":197.9,"y":34,"y2":35,"d":0.148},{"x":197.9,"x2":230.5,"y":34,"y2":35,"d":0.150},{"x":230.5,"x2":304.3,"y":34,"y2":35,"d":0.152},{"x":304.3,"x2":349.2,"y":34,"y2":35,"d":0.150},
      {"x":120,"x2":129.7,"y":35,"y2":36,"d":0.166},{"x":129.7,"x2":133.7,"y":35,"y2":36,"d":0.164},{"x":133.7,"x2":136.3,"y":35,"y2":36,"d":0.1625},{"x":136.3,"x2":138.3,"y":35,"y2":36,"d":0.161},{"x":138.3,"x2":140.1,"y":35,"y2":36,"d":0.159},{"x":140.1,"x2":142.0,"y":35,"y2":36,"d":0.157},{"x":142.0,"x2":143.6,"y":35,"y2":36,"d":0.155},{"x":143.6,"x2":144.4,"y":35,"y2":36,"d":0.1535},{"x":144.4,"x2":145.1,"y":35,"y2":36,"d":0.152},
      {"x":120,"x2":129.8,"y":36,"y2":37,"d":0.166},{"x":129.8,"x2":133.9,"y":36,"y2":37,"d":0.164},{"x":133.9,"x2":136.7,"y":36,"y2":37,"d":0.1625},{"x":136.7,"x2":138.9,"y":36,"y2":37,"d":0.161},{"x":138.9,"x2":141.0,"y":36,"y2":37,"d":0.159},{"x":141.0,"x2":145.1,"y":36,"y2":37,"d":0.157},
      {"x":120,"x2":130.0,"y":37,"y2":38,"d":0.166},{"x":130.0,"x2":134.5,"y":37,"y2":38,"d":0.164},{"x":134.5,"x2":137.5,"y":37,"y2":38,"d":0.1625},{"x":137.5,"x2":140.2,"y":37,"y2":38,"d":0.161},{"x":140.2,"x2":145.1,"y":37,"y2":38,"d":0.159},
      {"x":120,"x2":130.1,"y":38,"y2":39,"d":0.166},{"x":130.1,"x2":135.0,"y":38,"y2":39,"d":0.164},{"x":135.0,"x2":138.8,"y":38,"y2":39,"d":0.1625},{"x":138.8,"x2":145.1,"y":38,"y2":39,"d":0.161},
      {"x":120,"x2":130.2,"y":39,"y2":40,"d":0.166},{"x":130.2,"x2":135.5,"y":39,"y2":40,"d":0.164},{"x":135.5,"x2":141.5,"y":39,"y2":40,"d":0.1625},{"x":141.5,"x2":145.1,"y":39,"y2":40,"d":0.161},
      {"x":120,"x2":130.4,"y":40,"y2":41,"d":0.166},{"x":130.4,"x2":136.9,"y":40,"y2":41,"d":0.164},{"x":136.9,"x2":143.8,"y":40,"y2":41,"d":0.1625},{"x":143.8,"x2":145.1,"y":40,"y2":41,"d":0.164},
      {"x":120,"x2":130.5,"y":41,"y2":41.4,"d":0.166},{"x":130.5,"x2":138.0,"y":41,"y2":41.4,"d":0.164},{"x":138.0,"x2":142.0,"y":41,"y2":41.4,"d":0.1625},{"x":142.0,"x2":145.1,"y":41,"y2":41.4,"d":0.164},
      {"x":120,"x2":130.5,"y":41.4,"y2":42,"d":0.166},{"x":130.5,"x2":145.1,"y":41.4,"y2":42,"d":0.164},
      {"x":120,"x2":130.6,"y":42,"y2":44,"d":0.166},{"x":130.6,"x2":145.1,"y":42,"y2":44,"d":0.164},
      {"x":120,"x2":130.9,"y":44,"y2":46,"d":0.166},{"x":130.9,"x2":145.1,"y":44,"y2":46,"d":0.164},
      {"x":120,"x2":131.6,"y":46,"y2":48,"d":0.166},{"x":131.6,"x2":145.1,"y":46,"y2":48,"d":0.164},
      {"x":120,"x2":132.5,"y":48,"y2":50,"d":0.166},{"x":132.5,"x2":145.1,"y":48,"y2":50,"d":0.164},
      {"x":120,"x2":133.5,"y":50,"y2":52,"d":0.166},{"x":133.5,"x2":145.1,"y":50,"y2":52,"d":0.164},
      {"x":120,"x2":134.5,"y":52,"y2":53,"d":0.166},{"x":134.5,"x2":145.1,"y":52,"y2":53,"d":0.164},
      {"x":120,"x2":135.5,"y":53,"y2":54,"d":0.166},{"x":135.5,"x2":145.1,"y":53,"y2":54,"d":0.164},
      {"x":120,"x2":136.8,"y":54,"y2":55,"d":0.166},{"x":136.8,"x2":145.1,"y":54,"y2":55,"d":0.164},
      {"x":120,"x2":138.1,"y":55,"y2":56,"d":0.166},{"x":138.1,"x2":145.1,"y":55,"y2":56,"d":0.164},
      {"x":120,"x2":140.4,"y":56,"y2":56.4,"d":0.166},{"x":140.4,"x2":145.1,"y":56,"y2":56.4,"d":0.164},
      {"x":120,"x2":145.1,"y":56.4,"y2":121.4,"d":0.166},
      {"x":120,"x2":145.1,"y":121.4,"y2":126.3,"d":0.170}
    ],
    "walls": [
      {"x":0,"x2":349.2,"y":0,"y2":0},
      {"x":0,"x2":120,"y":35,"y2":35},
      {"x":145.1,"x2":349.2,"y":35,"y2":35},
      {"x":120,"x2":120,"y":35,"y2":126.3},
      {"x":145.1,"x2":145.1,"y":35,"y2":126.3}
    ]
  },
  "layer": [
    {
      "data": {"name": "cells"},
      "mark": {"type": "rect", "strokeWidth": 0},
      "encoding": {
        "x": {"field": "x", "type": "quantitative", "scale": {"domain": [0, 349.2], "nice": false, "zero": false}, "axis": null},
        "x2": {"field": "x2"},
        "y": {"field": "y", "type": "quantitative", "scale": {"domain": [0, 126.3], "nice": false, "zero": false, "reverse": true}, "axis": null},
        "y2": {"field": "y2"},
        "color": {
          "field": "d",
          "type": "quantitative",
          "scale": {
            "type": "threshold",
            "domain": [0.1437, 0.145486, 0.147271, 0.149057, 0.150843, 0.152629, 0.154414, 0.1562, 0.157986, 0.159771, 0.161557, 0.163343, 0.165129, 0.166914, 0.1687],
            "range": ["#0000FF", "#0022FF", "#006EFF", "#00B4FF", "#00FFFF", "#00FFB4", "#00FF6E", "#00FF22", "#22FF00", "#6EFF00", "#B4FF00", "#FFFF00", "#FFB400", "#FF6E00", "#FF2200", "#FF0000"]
          },
          "legend": {
            "type": "gradient",
            "title": " ",
            "titleOrient": "right",
            "titleFontSize": 10,
            "titlePadding": 17,
            "orient": "none",
            "legendX": 1488,
            "legendY": 377,
            "direction": "vertical",
            "gradientLength": 517,
            "gradientThickness": 47,
            "gradientStrokeColor": "#000000",
            "gradientStrokeWidth": 2.5,
            "labelFont": "Liberation Serif",
            "labelFontSize": 31,
            "labelFontWeight": "bold",
            "labelColor": "#000000",
            "labelOffset": 36,
            "labelOverlap": false,
            "format": ".3f",
            "padding": 22,
            "strokeColor": "#000000",
            "strokeWidth": 2.5,
            "fillColor": "#FFFFFF"
          }
        }
      }
    },
    {
      "data": {"name": "walls"},
      "mark": {"type": "rule", "color": "#F81CA6", "strokeWidth": 5, "strokeCap": "square"},
      "encoding": {
        "x": {"field": "x", "type": "quantitative", "scale": {"domain": [0, 349.2], "nice": false, "zero": false}, "axis": null},
        "x2": {"field": "x2"},
        "y": {"field": "y", "type": "quantitative", "scale": {"domain": [0, 126.3], "nice": false, "zero": false, "reverse": true}, "axis": null},
        "y2": {"field": "y2"}
      }
    }
  ]
}
